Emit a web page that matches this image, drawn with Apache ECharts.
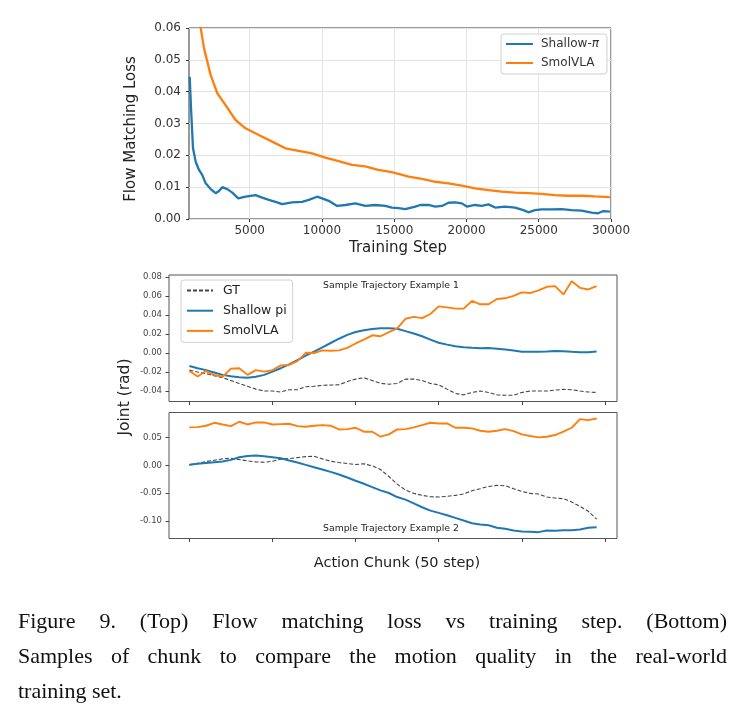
<!DOCTYPE html>
<html>
<head>
<meta charset="utf-8">
<script src="https://cdn.jsdelivr.net/npm/echarts@6/dist/echarts.min.js"></script>
<style>
  html, body { margin: 0; padding: 0; background: #fff; }
  #main { width: 740px; height: 717px; }
</style>
</head>
<body>
<div id="main"></div>
<script>
// top panel: flow matching loss
var shallowSteps = [848, 940, 1078, 1263, 1493, 1723, 1953, 2298, 2643, 2874, 3104, 3449, 3795, 4209, 4716, 5406,
  5866, 6327, 6787, 7247, 7938, 8628, 9089, 9664, 10010, 10470, 11046, 11621, 12312, 13002, 13693, 14384, 14844,
  15300, 15765, 16456, 16801, 17376, 17837, 18297, 18758, 19218, 19678, 20024, 20599, 21059, 21520, 21980, 22671,
  23361, 23937, 24282, 24742, 25203, 25893, 26584, 27275, 27965, 28656, 29116, 29461, 29922];
var shallowLoss = [0.0447, 0.0348, 0.0222, 0.0180, 0.0154, 0.0138, 0.0112, 0.0094, 0.0081, 0.0088, 0.0100, 0.0094,
  0.0083, 0.0065, 0.0070, 0.0075, 0.0067, 0.0060, 0.0054, 0.0047, 0.0052, 0.0054, 0.0060, 0.0070, 0.0065, 0.0057,
  0.0041, 0.0044, 0.0049, 0.0041, 0.0044, 0.0041, 0.0036, 0.0034, 0.0031, 0.0039, 0.0044, 0.0044, 0.0039, 0.0041,
  0.0051, 0.0052, 0.0049, 0.0039, 0.0044, 0.0041, 0.0046, 0.0036, 0.0039, 0.0036, 0.0028, 0.0021, 0.0028, 0.0030,
  0.0030, 0.0031, 0.0028, 0.0026, 0.0020, 0.0018, 0.0025, 0.0023];
var smolSteps = [1400, 1610, 1840, 2300, 2760, 3330, 4020, 4710, 5630, 6550, 7470, 8390, 9310, 10230, 11150, 12070,
  12990, 13900, 14820, 15620, 16000, 16920, 17840, 18760, 19680, 20600, 21520, 22440, 23360, 24280, 25200, 26120,
  27040, 27960, 28880, 29920];
var smolLoss = [0.066, 0.060, 0.0536, 0.0452, 0.0395, 0.0358, 0.0311, 0.0285, 0.0264, 0.0243, 0.0222, 0.0214,
  0.0206, 0.0193, 0.0182, 0.0170, 0.0165, 0.0154, 0.0147, 0.0138, 0.0133, 0.0126, 0.0117, 0.0112, 0.0105, 0.0096,
  0.0091, 0.0086, 0.0083, 0.0081, 0.0079, 0.0075, 0.0073, 0.0073, 0.0071, 0.0069];
var stepTicks = [5000, 10000, 15000, 20000, 25000, 30000];

// bottom panels: joint trajectories over a 50 step chunk
var gtEx1 = [-0.018, -0.020, -0.0216, -0.024, -0.026, -0.029, -0.032, -0.035, -0.038, -0.040, -0.040, -0.041,
  -0.0386, -0.0386, -0.0355, -0.035, -0.034, -0.0337, -0.0334, -0.030, -0.0275, -0.026, -0.029, -0.032, -0.0328,
  -0.032, -0.0275, -0.0275, -0.029, -0.032, -0.0334, -0.038, -0.0425, -0.044, -0.0415, -0.040, -0.0415, -0.044,
  -0.0445, -0.0445, -0.0415, -0.040, -0.040, -0.040, -0.039, -0.0383, -0.0386, -0.040, -0.041, -0.0415];
var shallowEx1 = [-0.0137, -0.016, -0.018, -0.0205, -0.023, -0.0245, -0.0255, -0.026, -0.025, -0.023, -0.0196,
  -0.016, -0.012, -0.0075, -0.0028, 0.0015, 0.006, 0.0105, 0.015, 0.019, 0.022, 0.024, 0.0253, 0.026, 0.026, 0.0255,
  0.023, 0.0205, 0.0176, 0.014, 0.0108, 0.0088, 0.0072, 0.006, 0.0054, 0.005, 0.0052, 0.0045, 0.0037, 0.0025,
  0.0013, 0.0012, 0.0013, 0.0016, 0.002, 0.0018, 0.0013, 0.0009, 0.0008, 0.0016];
var smolEx1 = [-0.019, -0.0248, -0.019, -0.023, -0.025, -0.0164, -0.016, -0.023, -0.018, -0.0196, -0.018, -0.013,
  -0.0126, -0.0085, 0.0002, 0.0, 0.0027, 0.0023, 0.0027, 0.0054, 0.010, 0.014, 0.0186, 0.0176, 0.022, 0.026, 0.036,
  0.038, 0.0366, 0.041, 0.049, 0.048, 0.0466, 0.0466, 0.0547, 0.0512, 0.0512, 0.0568, 0.0575, 0.060, 0.0637, 0.063,
  0.0658, 0.0696, 0.0703, 0.0616, 0.0755, 0.0685, 0.0668, 0.0703];

var gtEx2 = [0.0008, 0.0037, 0.0067, 0.0091, 0.0115, 0.0126, 0.0103, 0.0079, 0.0061, 0.0055, 0.0073, 0.0109, 0.012,
  0.0138, 0.0156, 0.0162, 0.0115, 0.0073, 0.0049, 0.0031, 0.0014, 0.0026, -0.001, -0.0075, -0.020, -0.0336, -0.0443,
  -0.0502, -0.0538, -0.0562, -0.0568, -0.0556, -0.0538, -0.0514, -0.0455, -0.0419, -0.0378, -0.036, -0.0366,
  -0.0419, -0.0467, -0.0502, -0.0514, -0.0568, -0.0585, -0.0597, -0.0657, -0.0734, -0.0823, -0.0965];
var shallowEx2 = [0.0008, 0.0026, 0.0043, 0.0055, 0.0067, 0.0097, 0.0144, 0.0168, 0.0174, 0.0162, 0.0144, 0.0126,
  0.0085, 0.0049, 0.0008, -0.0034, -0.0075, -0.0117, -0.0164, -0.0218, -0.0277, -0.033, -0.039, -0.0449, -0.0496,
  -0.0568, -0.0615, -0.068, -0.0751, -0.0811, -0.0852, -0.0894, -0.0941, -0.0989, -0.1036, -0.106, -0.1072, -0.1119,
  -0.1137, -0.1167, -0.1184, -0.119, -0.1196, -0.1167, -0.1173, -0.1161, -0.1161, -0.1149, -0.1119, -0.1107];
var smolEx2 = [0.0678, 0.0684, 0.0708, 0.0761, 0.0731, 0.0702, 0.0779, 0.0731, 0.0767, 0.0767, 0.0731, 0.0737,
  0.0743, 0.0702, 0.069, 0.0708, 0.072, 0.0708, 0.0642, 0.0648, 0.0672, 0.0601, 0.0601, 0.0512, 0.0553, 0.0642,
  0.0648, 0.0678, 0.072, 0.0761, 0.0749, 0.0749, 0.0672, 0.0672, 0.066, 0.0619, 0.0601, 0.0619, 0.0648, 0.0613,
  0.0553, 0.0524, 0.050, 0.0512, 0.0542, 0.0601, 0.0672, 0.0826, 0.0808, 0.0838];
var chunkTicks = [0, 10, 20, 30, 40, 50];
var ex1Ticks = [-0.04, -0.02, 0, 0.02, 0.04, 0.06, 0.08];
var ex2Ticks = [-0.10, -0.05, 0, 0.05];

var captionLines = [
  'Figure 9. (Top) Flow matching loss vs training step. (Bottom)',
  'Samples of chunk to compare the motion quality in the real-world',
  'training set.'
];

var BLUE = '#1f77b4', ORANGE = '#ff7f0e';
var SANS = 'DejaVu Sans';

function pairs(xs, ys) {
  return ys.map(function (v, i) { return [xs[i], v]; });
}
var chunkIndex = gtEx1.map(function (_, i) { return i; });

// justified caption, one text element per word
var measure = document.createElement('canvas').getContext('2d');
var capFont = '22px "Liberation Serif"';
measure.font = capFont;
var captionGraphics = [];
captionLines.forEach(function (line, li) {
  var words = line.split(' ');
  var left = 18, right = 727, y = 622 + li * 35;
  var widths = words.map(function (w) { return measure.measureText(w).width; });
  var total = widths.reduce(function (a, b) { return a + b; }, 0);
  var last = li === captionLines.length - 1;
  var gap = last ? measure.measureText(' ').width : (right - left - total) / (words.length - 1);
  var x = left;
  words.forEach(function (w, wi) {
    captionGraphics.push({
      type: 'text', x: x, y: y,
      style: { text: w, font: capFont, fill: '#111', verticalAlign: 'middle' }
    });
    x += widths[wi] + gap;
  });
});

var chart = echarts.init(document.getElementById('main'));

function lowerXAxis(idx) {
  return {
    gridIndex: idx, type: 'value', min: -2.45, max: 51.45,
    axisLine: { show: false, onZero: false },
    axisTick: { show: true, customValues: chunkTicks, length: 3.5, lineStyle: { color: '#444' } },
    axisLabel: { show: false },
    splitLine: { show: false }
  };
}
function lowerYAxis(idx, min, max, ticks) {
  return {
    gridIndex: idx, type: 'value', min: min, max: max,
    axisLine: { show: false, onZero: false },
    axisTick: { show: true, customValues: ticks, length: 3.5, lineStyle: { color: '#444' } },
    axisLabel: {
      customValues: ticks, fontFamily: SANS, fontSize: 8.5, color: '#444', margin: 7,
      formatter: function (v) { return v.toFixed(2); }
    },
    splitLine: { show: false }
  };
}
function lineSeries(name, data, xi, color, width, extra) {
  var s = {
    name: name, type: 'line', xAxisIndex: xi, yAxisIndex: xi, data: data,
    symbol: 'none', smooth: false, silent: true,
    lineStyle: { color: color, width: width },
    itemStyle: { color: color }
  };
  if (extra) s.lineStyle.type = extra;
  return s;
}

chart.setOption({
  animation: false,
  grid: [
    { left: 189, top: 28, width: 422, height: 191, show: true, borderColor: '#333', borderWidth: 1 },
    { left: 169, top: 275, width: 448, height: 126.5, show: true, borderColor: '#555', borderWidth: 1 },
    { left: 169, top: 412.5, width: 448, height: 126, show: true, borderColor: '#555', borderWidth: 1 }
  ],
  xAxis: [
    {
      gridIndex: 0, type: 'value', min: 800, max: 30000,
      axisLine: { show: false, onZero: false },
      axisTick: { show: true, customValues: stepTicks, length: 3, lineStyle: { color: '#333' } },
      axisLabel: {
        customValues: stepTicks, fontFamily: SANS, fontSize: 12, color: '#333', margin: 6,
        formatter: function (v) { return String(v); }
      },
      splitLine: { show: true, lineStyle: { color: '#e3e3e3', width: 1 } }
    },
    lowerXAxis(1),
    lowerXAxis(2)
  ],
  yAxis: [
    {
      gridIndex: 0, type: 'value', min: 0, max: 0.06, interval: 0.01,
      axisLine: { show: false, onZero: false },
      axisTick: { show: true, length: 3, lineStyle: { color: '#333' } },
      axisLabel: {
        fontFamily: SANS, fontSize: 12, color: '#333', margin: 8,
        formatter: function (v) { return v.toFixed(2); }
      },
      splitLine: { show: true, lineStyle: { color: '#e3e3e3', width: 1 } }
    },
    lowerYAxis(1, -0.051, 0.082, ex1Ticks),
    lowerYAxis(2, -0.131, 0.0945, ex2Ticks)
  ],
  legend: [
    {
      data: ['Shallow-π', 'SmolVLA'], orient: 'vertical', left: 501, top: 34,
      itemWidth: 27, itemHeight: 12, itemGap: 7, padding: [4, 8, 5, 4],
      backgroundColor: '#fff', borderColor: '#d0d0d0', borderWidth: 1, borderRadius: 3,
      selectedMode: false,
      itemStyle: { opacity: 0 },
      textStyle: {
        fontFamily: SANS, fontSize: 12, color: '#333', padding: [0, 0, 0, 3],
        rich: { i: { fontFamily: SANS, fontSize: 12, fontStyle: 'italic', color: '#333' } }
      },
      formatter: function (n) { return n === 'Shallow-π' ? 'Shallow-{i|π}' : n; }
    },
    {
      data: ['GT', 'Shallow pi', 'SmolVLA'], orient: 'vertical', left: 181, top: 280,
      itemWidth: 26, itemHeight: 12, itemGap: 7.2, padding: [4, 6, 5, 5],
      backgroundColor: '#fff', borderColor: '#d0d0d0', borderWidth: 1, borderRadius: 3,
      selectedMode: false,
      itemStyle: { opacity: 0 },
      textStyle: { fontFamily: SANS, fontSize: 12.5, color: '#222', padding: [0, 0, 0, 5] }
    }
  ],
  graphic: [
    { type: 'text', x: 131, y: 129, rotation: Math.PI / 2,
      style: { text: 'Flow Matching Loss', font: '15px "DejaVu Sans"', fill: '#222', align: 'center', verticalAlign: 'middle' } },
    { type: 'text', x: 398, y: 248,
      style: { text: 'Training Step', font: '15px "DejaVu Sans"', fill: '#222', align: 'center', verticalAlign: 'middle' } },
    { type: 'text', x: 391, y: 286,
      style: { text: 'Sample Trajectory Example 1', font: '9.3px "DejaVu Sans"', fill: '#222', align: 'center', verticalAlign: 'middle' } },
    { type: 'text', x: 391, y: 528.5,
      style: { text: 'Sample Trajectory Example 2', font: '9.3px "DejaVu Sans"', fill: '#222', align: 'center', verticalAlign: 'middle' } },
    { type: 'text', x: 125, y: 397, rotation: Math.PI / 2,
      style: { text: 'Joint (rad)', font: '15.5px "DejaVu Sans"', fill: '#222', align: 'center', verticalAlign: 'middle' } },
    { type: 'text', x: 397, y: 563,
      style: { text: 'Action Chunk (50 step)', font: '14.5px "DejaVu Sans"', fill: '#222', align: 'center', verticalAlign: 'middle' } }
  ].concat(captionGraphics),
  series: [
    lineSeries('Shallow-π', pairs(shallowSteps, shallowLoss), 0, BLUE, 2.3),
    lineSeries('SmolVLA', pairs(smolSteps, smolLoss), 0, ORANGE, 2.3),
    lineSeries('GT', pairs(chunkIndex, gtEx1), 1, '#444', 1.1, [4, 2]),
    lineSeries('Shallow pi', pairs(chunkIndex, shallowEx1), 1, BLUE, 2),
    lineSeries('SmolVLA', pairs(chunkIndex, smolEx1), 1, ORANGE, 1.9),
    lineSeries('GT', pairs(chunkIndex, gtEx2), 2, '#444', 1.1, [4, 2]),
    lineSeries('Shallow pi', pairs(chunkIndex, shallowEx2), 2, BLUE, 2),
    lineSeries('SmolVLA', pairs(chunkIndex, smolEx2), 2, ORANGE, 1.9)
  ]
});
</script>
</body>
</html>
